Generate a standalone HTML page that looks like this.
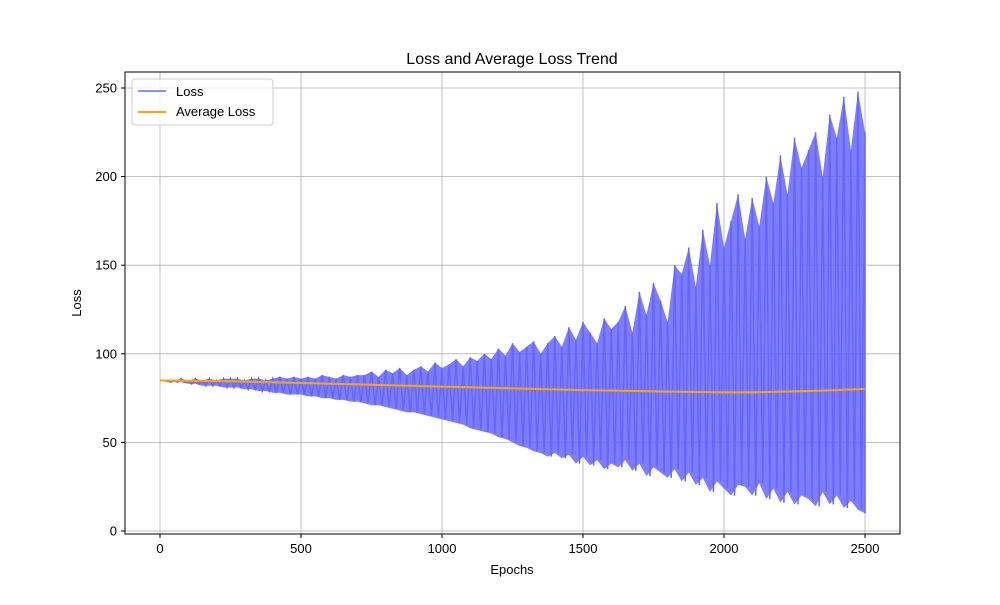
<!DOCTYPE html>
<html><head><meta charset="utf-8"><style>
body{margin:0;background:#fff;}
svg text{font-family:"Liberation Sans","DejaVu Sans",sans-serif;fill:#000;}
</style></head><body>
<svg id="chart" width="1000" height="600" viewBox="0 0 1000 600" xmlns="http://www.w3.org/2000/svg">
<rect width="1000" height="600" fill="#fff"/>
<g id="grid"></g>
<g id="series"></g>
<rect x="125" y="72" width="775" height="462" fill="none" stroke="#000" stroke-width="1"/>
<g id="ticks"></g>
<text x="512" y="64" font-size="16" text-anchor="middle">Loss and Average Loss Trend</text>
<text x="512" y="574" font-size="13" text-anchor="middle">Epochs</text>
<text x="81" y="303" font-size="13" text-anchor="middle" transform="rotate(-90 81 303)">Loss</text>
<g>
<rect x="132" y="79" width="141" height="46" rx="3" fill="#fff" fill-opacity="0.8" stroke="#ccc"/>
<g>
<line x1="138" y1="91" x2="166" y2="91" stroke="#6666ff" stroke-width="1.5"/>
<text x="176" y="96" font-size="13">Loss</text></g>
<g>
<line x1="138" y1="112" x2="166" y2="112" stroke="#ffa500" stroke-width="2"/>
<text x="176" y="116" font-size="13">Average Loss</text></g>
</g>
</svg>
<script>
const upperLoss=[85,85,85,86,85,86,85,86,85,86,86,
86,85,86,86,85,86,87,86,87,
86,87,86,88,87,86,88,87,88,
88,90,87,91,89,92,88,91,93,
90,95,92,94,97,93,98,96,100,
97,103,99,106,101,104,107,100,106,
110,104,115,108,118,112,106,120,114,
118,127,112,135,122,140,130,118,150,
145,160,138,170,150,185,160,175,190,
165,188,172,200,185,212,190,222,205,
215,225,200,235,222,245,215,248,225];
const lowerLoss=[85,84,84,84,83,83,82,82,82,81,81,
81,80,80,79,79,78,78,77,77,
77,76,76,75,75,74,74,73,73,
72,71,71,70,69,68,67,67,66,
65,64,63,62,61,60,58,57,56,
55,53,52,50,48,47,45,44,42,
44,41,43,38,42,37,40,35,38,
36,40,34,38,31,36,33,30,35,
28,33,26,30,22,28,24,20,26,
25,20,27,18,24,16,22,15,20,
18,14,22,15,20,13,17,12,10];
const avgEpochs=[0,250,500,750,1000,1250,1500,1750,2000,2100,2250,2350,2500];
const avgLoss=[85,84.5,83.5,82.5,81.5,80.5,79.5,78.8,78.2,78.2,78.8,79.2,80.2];
const xTicks=[0,500,1000,1500,2000,2500];
const yTicks=[0,50,100,150,200,250];
(function(){
const ns="http://www.w3.org/2000/svg";
const X=v=>160+v*(705/2500);
const Y=v=>531-v*(443/250);
const grid=document.getElementById('grid'),ticks=document.getElementById('ticks'),ser=document.getElementById('series');
function mk(t,a,p){const e=document.createElementNS(ns,t);for(const k in a)e.setAttribute(k,a[k]);p.appendChild(e);return e;}
xTicks.forEach(v=>{
 const g=mk('line',{x1:X(v),x2:X(v),y1:72,y2:534,stroke:'#b0b0b0','stroke-width':0.8},grid);
 
 
 mk('line',{x1:X(v),x2:X(v),y1:534,y2:538,stroke:'#000'},ticks);
 const t=mk('text',{x:X(v),y:553,'font-size':13,'text-anchor':'middle'},ticks);t.textContent=v;
 
 
});
yTicks.forEach(v=>{
 const g=mk('line',{x1:125,x2:900,y1:Y(v),y2:Y(v),stroke:'#b0b0b0','stroke-width':0.8},grid);
 
 
 mk('line',{x1:121,x2:125,y1:Y(v),y2:Y(v),stroke:'#000'},ticks);
 const t=mk('text',{x:117,y:Y(v)+4.5,'font-size':13,'text-anchor':'end'},ticks);t.textContent=v;
 
 
});
const n=upperLoss.length, step=2500/(n-1);
let upPts=[],lowPts=[];
for(let i=0;i<n;i++){upPts.push(X(i*step)+','+Y(upperLoss[i]));lowPts.unshift(X(i*step)+','+Y(lowerLoss[i]));}
const band=mk('polygon',{points:upPts.concat(lowPts).join(' '),fill:'#6666ff','fill-opacity':0.85,stroke:'none'},ser);


let pts=[];
for(let i=0;i<n;i++){
 pts.push(X(i*step)+','+Y(upperLoss[i]));
 pts.push(X(Math.min(i*step+step/2,2500))+','+Y(lowerLoss[i]));
}
const l=mk('polyline',{points:pts.join(' '),fill:'none',stroke:'#6666ff','stroke-width':1.5},ser);


const a=mk('polyline',{points:avgEpochs.map((e,i)=>X(e)+','+Y(avgLoss[i])).join(' '),fill:'none',stroke:'#ffa500','stroke-width':2},ser);


})();
</script>
</body></html>
